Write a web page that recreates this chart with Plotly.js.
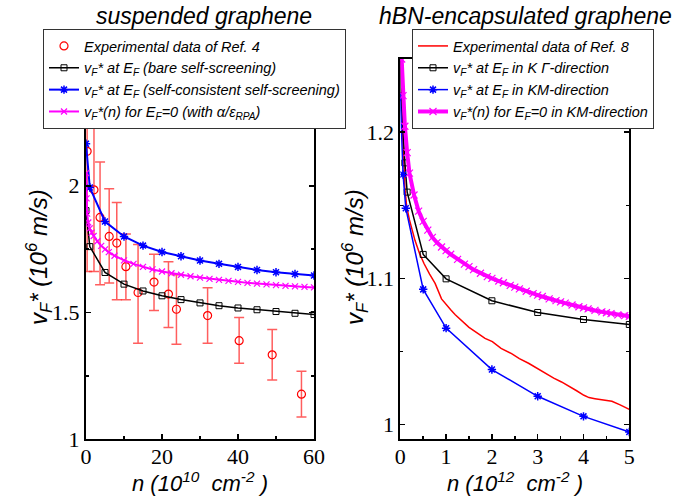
<!DOCTYPE html>
<html>
<head>
<meta charset="utf-8">
<script src="https://cdn.plot.ly/plotly-3.0.1.min.js"></script>
<style>html,body{margin:0;padding:0;background:#fff;}#chart{width:683px;height:500px;}</style>
</head>
<body>
<div id="chart"></div>
<script>
// ---------- Left panel: suspended graphene (n in 1e10 cm^-2) ----------
const expN = [0.3, 2.1, 3.7, 6.1, 8.1, 10.5, 13.7, 17.9, 21.7, 23.8, 32, 40.3, 49, 56.7];
const expV = [2.136, 1.984, 1.875, 1.80, 1.774, 1.681, 1.579, 1.62, 1.573, 1.513, 1.488, 1.389, 1.333, 1.178];
const expHi = [2.7, 2.7, 2.094, 1.988, 1.934, 1.81, 1.768, 1.73, 1.70, 1.649, 1.598, 1.48, 1.433, 1.268];
const expLo = [1.662, 1.662, 1.61, 1.616, 1.55, 1.55, 1.379, 1.508, 1.441, 1.375, 1.379, 1.30, 1.234, 1.088];

const bareN = [0, 1, 5, 10, 15, 20, 25, 30, 35, 40, 45, 50, 55, 60];
const bareV = [1.902, 1.760, 1.658, 1.612, 1.585, 1.566, 1.551, 1.538, 1.527, 1.518, 1.511, 1.504, 1.497, 1.492];

const scN = [0, 1, 5, 10, 15, 20, 25, 30, 35, 40, 45, 50, 55, 60];
const scV = [2.166, 1.993, 1.859, 1.800, 1.764, 1.739, 1.722, 1.705, 1.692, 1.680, 1.668, 1.659, 1.652, 1.646];

const ef0N = [0.05, 0.15, 0.3, 0.6, 1, 1.5, 2, 3, 4, 5, 6, 7.5, 10, 12.5, 15, 17.5, 20, 22.5, 25, 27.5, 30, 32.5, 35, 37.5, 40, 42.5, 45, 47.5, 50, 52.5, 55, 57.5, 60];
const ef0V = [2.05, 1.95, 1.89, 1.855, 1.832, 1.815, 1.802, 1.781, 1.763, 1.749, 1.738, 1.724, 1.706, 1.692, 1.680, 1.670, 1.662, 1.655, 1.649, 1.643, 1.638, 1.633, 1.629, 1.625, 1.621, 1.617, 1.614, 1.611, 1.608, 1.605, 1.603, 1.601, 1.599];

// ---------- Right panel: hBN-encapsulated graphene (n in 1e12 cm^-2) ----------
const redN = [0.02, 0.05, 0.1, 0.14, 0.2, 0.32, 0.42, 0.52, 0.64, 0.76, 0.9, 1.01, 1.1, 1.2, 1.34, 1.5, 1.7, 1.85, 2.01, 2.2, 2.43, 2.6, 2.8, 3.01, 3.2, 3.35, 3.52, 3.7, 3.85, 4.01, 4.12, 4.25, 4.4, 4.62, 4.8, 5.0];
const redV = [1.25, 1.20, 1.162, 1.149, 1.140, 1.126, 1.117, 1.110, 1.103, 1.0966, 1.086, 1.0817, 1.0785, 1.0752, 1.0714, 1.0665, 1.0623, 1.0590, 1.0568, 1.0522, 1.0486, 1.0452, 1.0420, 1.0380, 1.0345, 1.0318, 1.0292, 1.0262, 1.0232, 1.0201, 1.0185, 1.0178, 1.0172, 1.0160, 1.0135, 1.0105];

const kgN = [0, 0.015, 0.1, 0.15, 0.5, 1, 2, 3, 4, 5];
const kgV = [1.30, 1.225, 1.179, 1.159, 1.1164, 1.0997, 1.0847, 1.0767, 1.0719, 1.0685];

const kmN = [0, 0.06, 0.12, 0.5, 1, 2, 3, 4, 5];
const kmV = [1.224, 1.171, 1.148, 1.0925, 1.066, 1.0377, 1.0194, 1.0057, 0.9950];

const kmEf0N = [0.03, 0.06, 0.1, 0.15, 0.2, 0.3, 0.4, 0.5, 0.6, 0.7, 0.8, 0.9, 1.0, 1.1, 1.25, 1.4, 1.5, 1.6, 1.75, 1.9, 2.0, 2.15, 2.25, 2.4, 2.5, 2.6, 2.75, 2.9, 3.0, 3.1, 3.25, 3.4, 3.5, 3.6, 3.75, 3.9, 4.0, 4.1, 4.25, 4.4, 4.5, 4.6, 4.75, 4.9, 5.0];
const kmEf0V = [1.25, 1.225, 1.204, 1.186, 1.172, 1.157, 1.146, 1.139, 1.133, 1.128, 1.1245, 1.1215, 1.119, 1.1165, 1.113, 1.1098, 1.108, 1.106, 1.1035, 1.1012, 1.100, 1.0982, 1.097, 1.0952, 1.094, 1.0928, 1.0912, 1.0896, 1.0886, 1.0876, 1.086, 1.0848, 1.0840, 1.0831, 1.0818, 1.0806, 1.0799, 1.0792, 1.0781, 1.0771, 1.0765, 1.0759, 1.0751, 1.0745, 1.0741];

const legL = [
  '<i>Experimental data of Ref. 4</i>',
  '<i>v<sub>F</sub>* at E<sub>F</sub> (bare self-screening)</i>',
  '<i>v<sub>F</sub>* at E<sub>F</sub> (self-consistent self-screening)</i>',
  '<i>v<sub>F</sub>*(n) for E<sub>F</sub>=0 (with α/ε<sub>RPA</sub>)</i>'
];
const legR = [
  '<i>Experimental data of Ref. 8</i>',
  '<i>v<sub>F</sub>* at E<sub>F</sub> in K Γ-direction</i>',
  '<i>v<sub>F</sub>* at E<sub>F</sub> in KM-direction</i>',
  '<i>v<sub>F</sub>*(n) for E<sub>F</sub>=0 in KM-direction</i>'
];

const errUp = expHi.map((h, i) => h - expV[i]);
const errDn = expLo.map((l, i) => expV[i] - l);

const traces = [
  {x: expN, y: expV, mode: 'markers', name: legL[0], legend: 'legend', xaxis: 'x', yaxis: 'y',
   marker: {symbol: 'circle-open', color: '#ff0000', size: 8, line: {width: 1.2, color: '#ff0000'}},
   error_y: {type: 'data', symmetric: false, array: errUp, arrayminus: errDn, color: 'rgba(255,40,40,0.75)', thickness: 1.5, width: 5}},
  {x: bareN, y: bareV, mode: 'lines+markers', name: legL[1], legend: 'legend', xaxis: 'x', yaxis: 'y',
   line: {color: '#000000', width: 1.5},
   marker: {symbol: 'square-open', color: '#000000', size: 6, line: {width: 1, color: '#000000'}}},
  {x: scN, y: scV, mode: 'lines+markers', name: legL[2], legend: 'legend', xaxis: 'x', yaxis: 'y',
   line: {color: '#0000ff', width: 2},
   marker: {symbol: 'asterisk-open', color: '#0000ff', size: 7, line: {width: 1.5, color: '#0000ff'}}},
  {x: ef0N, y: ef0V, mode: 'lines+markers', name: legL[3], legend: 'legend', xaxis: 'x', yaxis: 'y',
   line: {color: '#ff00ff', width: 2},
   marker: {symbol: 'x-thin-open', color: '#ff00ff', size: 6, line: {width: 1.2, color: '#ff00ff'}}},

  {x: redN, y: redV, mode: 'lines', name: legR[0], legend: 'legend2', xaxis: 'x2', yaxis: 'y2',
   line: {color: '#ff0000', width: 1.5}},
  {x: kgN, y: kgV, mode: 'lines+markers', name: legR[1], legend: 'legend2', xaxis: 'x2', yaxis: 'y2',
   line: {color: '#000000', width: 1.5},
   marker: {symbol: 'square-open', color: '#000000', size: 6, line: {width: 1, color: '#000000'}}},
  {x: kmN, y: kmV, mode: 'lines+markers', name: legR[2], legend: 'legend2', xaxis: 'x2', yaxis: 'y2',
   line: {color: '#0000ff', width: 1.5},
   marker: {symbol: 'asterisk-open', color: '#0000ff', size: 7, line: {width: 1.5, color: '#0000ff'}}},
  {x: kmEf0N, y: kmEf0V, mode: 'lines+markers', name: legR[3], legend: 'legend2', xaxis: 'x2', yaxis: 'y2',
   line: {color: '#ff00ff', width: 4},
   marker: {symbol: 'x-thin-open', color: '#ff00ff', size: 7, line: {width: 1.2, color: '#ff00ff'}}}
];

const tickFont = {family: 'Liberation Serif, Times New Roman, Times, serif', size: 22, color: '#000'};
const axBase = {showgrid: false, zeroline: false, showline: true, linecolor: '#000', linewidth: 2,
  mirror: 'allticks', ticks: 'inside', ticklen: 5, tickwidth: 1.5, tickcolor: '#000', tickfont: tickFont};

const W = 683, H = 500;
const px = v => v / W, py = v => 1 - v / H;
const sans = 'Liberation Sans';

function ann(text, x, y, size, angle) {
  return {text: text, xref: 'paper', yref: 'paper', x: px(x), y: py(y), xanchor: 'center', yanchor: 'middle',
    showarrow: false, textangle: angle || 0, font: {family: sans, size: size, color: '#000'}};
}

const layout = {
  width: W, height: H, paper_bgcolor: '#fff', plot_bgcolor: '#fff',
  margin: {l: 0, r: 0, t: 0, b: 0},
  showlegend: true,
  xaxis: Object.assign({}, axBase, {domain: [px(86), px(314)], range: [0, 60], tickvals: [0, 20, 40, 60], anchor: 'y',
    ticklabelstandoff: -4, minor: {dtick: 10, ticks: 'inside', ticklen: 3, tickcolor: '#000'}}),
  yaxis: Object.assign({}, axBase, {domain: [py(439.3), py(59)], range: [1, 2.5], tickvals: [1, 1.5, 2, 2.5], anchor: 'x',
    minor: {dtick: 0.25, ticks: 'inside', ticklen: 3, tickcolor: '#000'}}),
  xaxis2: Object.assign({}, axBase, {domain: [px(400.3), px(629.3)], range: [0, 5], tickvals: [0, 1, 2, 3, 4, 5], anchor: 'y2',
    ticklabelstandoff: -4, minor: {dtick: 0.5, ticks: 'inside', ticklen: 3, tickcolor: '#000'}}),
  yaxis2: Object.assign({}, axBase, {domain: [py(439.3), py(59)], range: [0.99, 1.25], tickvals: [1, 1.1, 1.2], ticktext: ['1', '1.1', '1.2'], anchor: 'x2',
    minor: {tickvals: [1.05, 1.15], ticks: 'inside', ticklen: 3, tickcolor: '#000'}}),
  legend: {x: px(43), y: py(29), xanchor: 'left', yanchor: 'top', bgcolor: '#fff', bordercolor: '#333', borderwidth: 1,
    font: {family: sans, size: 14.5, color: '#000'}, tracegroupgap: 0},
  legend2: {x: px(412), y: py(29), xanchor: 'left', yanchor: 'top', bgcolor: '#fff', bordercolor: '#333', borderwidth: 1,
    font: {family: sans, size: 14.5, color: '#000'}, tracegroupgap: 0},
  annotations: [
    ann('<i>suspended graphene</i>', 204, 16, 23),
    ann('<i>hBN-encapsulated graphene</i>', 525, 16, 23),
    ann('<i>v<sub>F</sub>* (10<sup>6</sup> m/s)</i>', 39, 257, 24, -90),
    ann('<i>v<sub>F</sub>* (10<sup>6</sup> m/s)</i>', 355, 257, 24, -90),
    ann('<i>n (10<sup>10</sup>  cm<sup>-2</sup> )</i>', 200, 482, 22),
    ann('<i>n (10<sup>12</sup>  cm<sup>-2</sup> )</i>', 515, 482, 22)
  ]
};

Plotly.newPlot('chart', traces, layout, {displayModeBar: false, staticPlot: true});
</script>
</body>
</html>
